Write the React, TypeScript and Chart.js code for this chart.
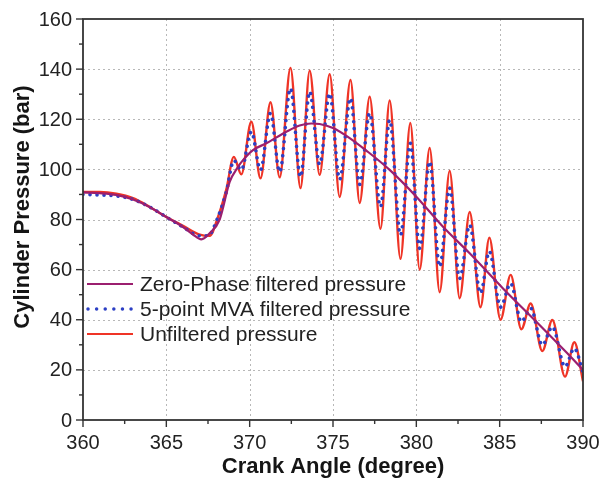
import React, { useEffect, useRef } from "react";
import { Chart, registerables } from "chart.js";

Chart.register(...registerables);

// ---- Data ----
const angleZeroPhase = [360, 361, 362, 363, 364, 365, 366, 366.6, 367.1, 367.6, 368.2, 368.8, 369.3, 369.6, 370.2, 371, 372.2, 373, 373.7, 374.2, 375, 376, 377, 378.4, 380, 381.6, 383.2, 385.2, 387.2, 389, 390];
const pressureZeroPhase = [90.8, 90.5, 89.8, 88, 85, 81, 77, 74, 72.1, 74.5, 80, 95, 101, 103.7, 107.7, 110.4, 115, 117.5, 118.3, 118.1, 116.5, 112.5, 107.5, 99.8, 89.1, 77.1, 66.5, 52.5, 39.2, 27, 20];

const angleMVA = [360, 361, 362, 363, 364, 365, 366, 367, 367.5, 368.1, 368.6, 369.05, 369.5, 370.1, 370.65, 371.25, 371.8, 372.45, 373.05, 373.6, 374.2, 374.8, 375.4, 376.05, 376.6, 377.2, 377.85, 378.4, 379.05, 379.64, 380.2, 380.8, 381.4, 382.0, 382.6, 383.2, 383.85, 384.38, 385.05, 385.66, 386.3, 386.86, 387.56, 388.16, 388.92, 389.48, 390];
const pressureMVA = [90, 89.8, 89.4, 88, 85, 81, 77, 73.5, 73.5, 81, 91, 103.5, 99.8, 115, 99.8, 122.4, 99, 132.3, 97, 131, 102, 130.3, 96, 128.4, 94, 122.4, 85.1, 119.7, 73.8, 110.4, 68.5, 103.1, 61.2, 92.5, 56.5, 77.8, 50.6, 67.2, 45, 54.5, 39.2, 44.6, 29.9, 37.2, 21.3, 28.6, 19];

const angleUnfiltered = [360, 361, 362, 363, 364, 365, 366, 367, 367.6, 368.1, 368.6, 369.05, 369.5, 370.1, 370.65, 371.25, 371.8, 372.45, 373.05, 373.6, 374.2, 374.8, 375.4, 376.05, 376.6, 377.2, 377.85, 378.4, 379.05, 379.64, 380.2, 380.8, 381.4, 382.0, 382.6, 383.2, 383.85, 384.38, 385.05, 385.66, 386.3, 386.86, 387.56, 388.16, 388.92, 389.48, 390];
const pressureUnfiltered = [91, 91, 90.3, 88.5, 85, 81, 77.5, 74, 73.5, 81, 92, 105, 98, 119, 96.4, 126.8, 96.8, 140.5, 92.5, 139.4, 97.8, 138, 89, 135.7, 86.6, 129, 76.3, 127.5, 64.3, 118.5, 60, 108.5, 51, 99.4, 48.6, 83, 45, 72.7, 40, 57.9, 36.2, 46.5, 27.5, 39.9, 17.3, 31, 15.5];

const xTickLabels = [360, 365, 370, 375, 380, 385, 390];
const yTickLabels = [0, 20, 40, 60, 80, 100, 120, 140, 160];
const xMinorTicks = [362.5, 367.5, 372.5, 377.5, 382.5, 387.5];
const yMinorTicks = [10, 30, 50, 70, 90, 110, 130, 150];

const seriesNames = ["Zero-Phase filtered pressure", "5-point MVA filtered pressure", "Unfiltered pressure"];

const COLOR_ZP = "#9b1f6f";
const COLOR_MVA = "#2c3fc4";
const COLOR_RAW = "#ef3426";
const FONT = "'Liberation Sans', Arial, sans-serif";

function toPoints(xs: number[], ys: number[]) {
  return xs.map((x, i) => ({ x, y: ys[i] }));
}

const decorPlugin = {
  id: "decor",
  beforeDatasetsDraw(chart: any) {
    const { ctx, chartArea: a, scales } = chart;
    const xs = scales.x;
    const ys = scales.y;
    ctx.save();
    ctx.strokeStyle = "#b8b8b8";
    ctx.lineWidth = 1;
    ctx.setLineDash([2, 3]);
    xTickLabels.forEach((v) => {
      if (v === 360 || v === 390) return;
      const px = Math.round(xs.getPixelForValue(v)) + 0.5;
      ctx.beginPath();
      ctx.moveTo(px, a.top);
      ctx.lineTo(px, a.bottom);
      ctx.stroke();
    });
    yTickLabels.forEach((v) => {
      if (v === 0 || v === 160) return;
      const py = Math.round(ys.getPixelForValue(v)) + 0.5;
      ctx.beginPath();
      ctx.moveTo(a.left, py);
      ctx.lineTo(a.right, py);
      ctx.stroke();
    });
    ctx.restore();
  },
  afterDatasetsDraw(chart: any) {
    const { ctx, chartArea: a, scales } = chart;
    const xs = scales.x;
    const ys = scales.y;
    ctx.save();
    // frame
    ctx.setLineDash([]);
    ctx.strokeStyle = "#333";
    ctx.lineWidth = 1.8;
    ctx.strokeRect(a.left, a.top, a.right - a.left, a.bottom - a.top);

    // ticks
    ctx.lineWidth = 1.4;
    ctx.strokeStyle = "#333";
    xTickLabels.forEach((v) => {
      const px = xs.getPixelForValue(v);
      ctx.beginPath();
      ctx.moveTo(px, a.bottom);
      ctx.lineTo(px, a.bottom + 7);
      ctx.stroke();
    });
    xMinorTicks.forEach((v) => {
      const px = xs.getPixelForValue(v);
      ctx.beginPath();
      ctx.moveTo(px, a.bottom);
      ctx.lineTo(px, a.bottom + 4);
      ctx.stroke();
    });
    yTickLabels.forEach((v) => {
      const py = ys.getPixelForValue(v);
      ctx.beginPath();
      ctx.moveTo(a.left, py);
      ctx.lineTo(a.left - 7, py);
      ctx.stroke();
    });
    yMinorTicks.forEach((v) => {
      const py = ys.getPixelForValue(v);
      ctx.beginPath();
      ctx.moveTo(a.left, py);
      ctx.lineTo(a.left - 4, py);
      ctx.stroke();
    });

    // tick labels
    ctx.fillStyle = "#222";
    ctx.font = `20px ${FONT}`;
    ctx.textBaseline = "middle";
    ctx.textAlign = "center";
    xTickLabels.forEach((v) => {
      ctx.fillText(String(v), xs.getPixelForValue(v), a.bottom + 23);
    });
    ctx.textAlign = "right";
    yTickLabels.forEach((v) => {
      ctx.fillText(String(v), a.left - 11, ys.getPixelForValue(v) + 1);
    });

    // axis titles
    ctx.fillStyle = "#151515";
    ctx.font = `bold 22px ${FONT}`;
    ctx.textAlign = "center";
    ctx.textBaseline = "middle";
    ctx.fillText("Crank Angle (degree)", (a.left + a.right) / 2, a.bottom + 47);
    ctx.save();
    ctx.translate(23, 207);
    ctx.rotate(-Math.PI / 2);
    ctx.fillText("Cylinder Pressure (bar)", 0, 0);
    ctx.restore();

    // legend
    const rows = [284, 309, 334];
    const lx0 = 87;
    const lx1 = 133;
    ctx.strokeStyle = COLOR_ZP;
    ctx.lineWidth = 2;
    ctx.beginPath();
    ctx.moveTo(lx0, rows[0]);
    ctx.lineTo(lx1, rows[0]);
    ctx.stroke();
    ctx.strokeStyle = COLOR_MVA;
    ctx.lineWidth = 3.5;
    ctx.lineCap = "round";
    ctx.setLineDash([0.01, 8.6]);
    ctx.beginPath();
    ctx.moveTo(lx0 + 1, rows[1]);
    ctx.lineTo(lx1, rows[1]);
    ctx.stroke();
    ctx.setLineDash([]);
    ctx.lineCap = "butt";
    ctx.strokeStyle = COLOR_RAW;
    ctx.lineWidth = 2;
    ctx.beginPath();
    ctx.moveTo(lx0, rows[2]);
    ctx.lineTo(lx1, rows[2]);
    ctx.stroke();

    ctx.fillStyle = "#222";
    ctx.font = `21px ${FONT}`;
    ctx.textAlign = "left";
    ctx.textBaseline = "middle";
    seriesNames.forEach((name, i) => {
      ctx.fillText(name, 140, rows[i] + 1);
    });
    ctx.restore();
  },
};

export default function App() {
  const canvasRef = useRef<HTMLCanvasElement | null>(null);

  useEffect(() => {
    document.body.style.margin = "0";
    const canvas = canvasRef.current;
    if (!canvas) return;
    const chart = new Chart(canvas, {
      type: "line",
      data: {
        datasets: [
          {
            label: seriesNames[0],
            data: toPoints(angleZeroPhase, pressureZeroPhase),
            borderColor: COLOR_ZP,
            borderWidth: 2.2,
            pointRadius: 0,
            cubicInterpolationMode: "monotone",
            fill: false,
          },
          {
            label: seriesNames[1],
            data: toPoints(angleMVA, pressureMVA),
            borderColor: COLOR_MVA,
            borderWidth: 3.6,
            borderDash: [0.01, 7],
            borderCapStyle: "round",
            pointRadius: 0,
            cubicInterpolationMode: "monotone",
            fill: false,
          },
          {
            label: seriesNames[2],
            data: toPoints(angleUnfiltered, pressureUnfiltered),
            borderColor: COLOR_RAW,
            borderWidth: 2.4,
            pointRadius: 0,
            cubicInterpolationMode: "monotone",
            fill: false,
          },
        ],
      },
      options: {
        animation: false,
        responsive: false,
        maintainAspectRatio: false,
        devicePixelRatio: 1,
        layout: { padding: { left: 83, right: 20, top: 19, bottom: 62 } },
        plugins: {
          legend: { display: false },
          tooltip: { enabled: false },
          title: { display: false },
        },
        scales: {
          x: { type: "linear", min: 360, max: 390, display: false },
          y: { type: "linear", min: 0, max: 160, display: false },
        },
      } as any,
      plugins: [decorPlugin],
    });
    return () => chart.destroy();
  }, []);

  return (
    <div style={{ width: 603, height: 482, background: "#fff" }}>
      <canvas ref={canvasRef} width={603} height={482} style={{ display: "block" }} />
    </div>
  );
}
